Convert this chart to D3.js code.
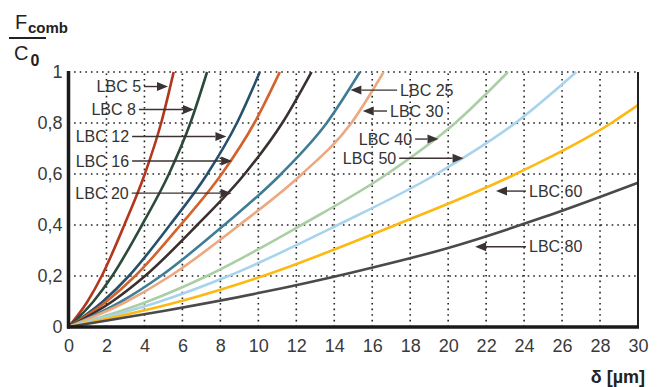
<!DOCTYPE html>
<html>
<head>
<meta charset="utf-8">
<script src="https://cdn.jsdelivr.net/npm/d3@7"></script>
<style>
  body { margin: 0; background: #fff; }
  svg { display: block; }
  text { font-family: "Liberation Sans", Arial, sans-serif; }
</style>
</head>
<body>
<div class="chart"></div>
<script>
var svgWidth = 662;
var svgHeight = 387;

// x tick labels (delta in um) and y tick labels (F_comb / C0)
var xTicks = [0, 2, 4, 6, 8, 10, 12, 14, 16, 18, 20, 22, 24, 26, 28, 30];
var yTicks = [0, 0.2, 0.4, 0.6, 0.8, 1];

// series names
var names = ["LBC 5", "LBC 8", "LBC 12", "LBC 16", "LBC 20", "LBC 25",
             "LBC 30", "LBC 40", "LBC 50", "LBC 60", "LBC 80"];

// load levels (F_comb / C0)
var loadLevels = [0, 0.1, 0.2, 0.4, 0.6, 0.8, 1];

// deflection (um) at each load level
var lbc5  = [0, 1.0, 1.75, 2.94, 4.02, 4.88, 5.54];
var lbc8  = [0, 1.31, 2.30, 3.87, 5.29, 6.42, 7.3];
var lbc12 = [0, 1.81, 3.18, 5.34, 7.31, 8.87, 10.08];
var lbc16 = [0, 2.0, 3.51, 5.9, 8.07, 9.79, 11.13];
var lbc20 = [0, 2.3, 4.03, 6.78, 9.28, 11.26, 12.8];
var lbc25 = [0, 2.78, 4.86, 8.2, 11.2, 13.6, 15.35];
var lbc30 = [0, 3.06, 5.36, 9.0, 12.3, 14.9, 16.6];
var lbc40 = [0, 4.17, 7.29, 12.27, 16.78, 20.37, 23.15];
var lbc50 = [0, 4.82, 8.43, 14.18, 19.39, 23.54, 26.75];

// the two flattest curves run out at delta = 30
var lbc60Load  = [0, 0.1, 0.2, 0.4, 0.6, 0.8, 0.87];
var lbc60Delta = [0, 5.85, 10.24, 17.23, 23.56, 28.6, 30];
var lbc80Delta = [0, 5, 10, 15, 20, 25, 30];
var lbc80Load  = [0, 0.063, 0.133, 0.215, 0.31, 0.43, 0.566];

var colors = ["#b2371c", "#2c4a3a", "#27506c", "#d3622c", "#3a302f", "#3f7c96",
              "#eda87f", "#aacfa5", "#a8d3ec", "#fdb913", "#4a4a4a"];

// build the series as point lists
var series = [lbc5, lbc8, lbc12, lbc16, lbc20, lbc25, lbc30, lbc40, lbc50].map(function (d) {
  return d.map(function (v, i) { return { x: v, y: loadLevels[i] }; });
});
series.push(lbc60Delta.map(function (v, i) { return { x: v, y: lbc60Load[i] }; }));
series.push(lbc80Delta.map(function (v, i) { return { x: v, y: lbc80Load[i] }; }));

// label layout: arrow tip, arrow tail (data units)
var labelPos = [
  { name: "LBC 5",  y: 0.943, tail: 3.98,  tip: 5.24 },
  { name: "LBC 8",  y: 0.853, tail: 3.71,  tip: 6.61 },
  { name: "LBC 12", y: 0.747, tail: 3.35,  tip: 8.32 },
  { name: "LBC 16", y: 0.651, tail: 3.35,  tip: 8.62 },
  { name: "LBC 20", y: 0.525, tail: 3.33,  tip: 8.59 },
  { name: "LBC 25", y: 0.929, tail: 17.31, tip: 14.85 },
  { name: "LBC 30", y: 0.847, tail: 16.78, tip: 15.5 },
  { name: "LBC 40", y: 0.737, tail: 18.26, tip: 19.49 },
  { name: "LBC 50", y: 0.662, tail: 17.42, tip: 20.81 },
  { name: "LBC 60", y: 0.533, tail: 24.1,  tip: 22.52 },
  { name: "LBC 80", y: 0.315, tail: 24.1,  tip: 21.42 }
];

var svg = d3.select(".chart")
  .append("svg")
  .attr("width", svgWidth)
  .attr("height", svgHeight);

var x = d3.scaleLinear().domain([0, 30]).range([68.5, 638]);
var y = d3.scaleLinear().domain([0, 1]).range([327, 72]);

// dotted grid
var grid = svg.append("g");
grid.selectAll(".vg")
  .data(xTicks.filter(function (d) { return d > 0 && d < 30; }))
  .enter().append("line")
  .attr("x1", function (d) { return x(d); })
  .attr("x2", function (d) { return x(d); })
  .attr("y1", y(0)).attr("y2", y(1))
  .attr("stroke", "#222").attr("stroke-width", 1.6)
  .attr("stroke-dasharray", "1.6,4");
grid.selectAll(".hg")
  .data(yTicks.filter(function (d) { return d > 0; }))
  .enter().append("line")
  .attr("x1", x(0)).attr("x2", x(30))
  .attr("y1", function (d) { return y(d); })
  .attr("y2", function (d) { return y(d); })
  .attr("stroke", "#222").attr("stroke-width", 1.6)
  .attr("stroke-dasharray", "1.6,4");

// curves
var line = d3.line()
  .x(function (d) { return x(d.x); })
  .y(function (d) { return y(d.y); })
  .curve(d3.curveMonotoneX);

svg.append("g").selectAll("path")
  .data(series)
  .enter().append("path")
  .attr("d", line)
  .attr("fill", "none")
  .attr("stroke", function (d, i) { return colors[i]; })
  .attr("stroke-width", 2.6);

// frame
svg.append("line").attr("x1", x(30)).attr("x2", x(30)).attr("y1", y(0)).attr("y2", y(1))
  .attr("stroke", "#222").attr("stroke-width", 2);
svg.append("line").attr("x1", x(0)).attr("x2", x(0)).attr("y1", y(0) + 1.5).attr("y2", y(1) - 1)
  .attr("stroke", "#1a1a1a").attr("stroke-width", 3.5);
svg.append("line").attr("x1", x(0) - 1.5).attr("x2", x(30) + 1).attr("y1", y(0)).attr("y2", y(0))
  .attr("stroke", "#1a1a1a").attr("stroke-width", 3.5);

// axes (labels only)
var bottomAxis = d3.axisBottom(x).tickValues(xTicks).tickSize(0).tickPadding(12);
var leftAxis = d3.axisLeft(y).tickValues(yTicks).tickSize(0).tickPadding(6)
  .tickFormat(function (d) { return String(d).replace(".", ","); });

var gx = svg.append("g").attr("transform", "translate(0," + y(0) + ")").call(bottomAxis);
var gy = svg.append("g").attr("transform", "translate(" + x(0) + ",0)").call(leftAxis);
[gx, gy].forEach(function (g) {
  g.select(".domain").remove();
  g.selectAll("text")
    .style("font-family", "'Liberation Sans', Arial, sans-serif")
    .style("font-size", "18px")
    .attr("fill", "#3a3a3a");
});

// labels with arrows
var arrowColor = "#3b3333";
var labels = svg.append("g");
labelPos.forEach(function (p) {
  var ty = y(p.y);
  var tail = x(p.tail), tip = x(p.tip);
  var dir = tip > tail ? 1 : -1;
  var head = 11;
  labels.append("line")
    .attr("x1", tail).attr("x2", tip - dir * head)
    .attr("y1", ty).attr("y2", ty)
    .attr("stroke", arrowColor).attr("stroke-width", 1.4);
  labels.append("path")
    .attr("d", "M" + tip + "," + ty + "L" + (tip - dir * head) + "," + (ty - 4.5) +
               "L" + (tip - dir * head) + "," + (ty + 4.5) + "Z")
    .attr("fill", arrowColor);
  labels.append("text")
    .attr("x", tail - dir * 3)
    .attr("y", ty)
    .attr("dy", "0.35em")
    .attr("text-anchor", dir > 0 ? "end" : "start")
    .style("font-size", "16px")
    .style("white-space", "pre")
    .attr("fill", "#333")
    .text(p.name);
});

// axis titles
svg.append("text").attr("x", 15).attr("y", 28.5).style("font-size", "20px").attr("fill", "#222").text("F");
svg.append("text").attr("x", 28).attr("y", 32.5).style("font-size", "15px").style("font-weight", "bold")
  .attr("fill", "#222").text("comb");
svg.append("line").attr("x1", 9).attr("x2", 46).attr("y1", 38).attr("y2", 38)
  .attr("stroke", "#222").attr("stroke-width", 2);
svg.append("text").attr("x", 14).attr("y", 59.5).style("font-size", "20px").attr("fill", "#222").text("C");
svg.append("text").attr("x", 30.5).attr("y", 66).style("font-size", "16px").style("font-weight", "bold")
  .attr("fill", "#222").text("0");
svg.append("text").attr("x", 645).attr("y", 383).attr("text-anchor", "end")
  .style("font-size", "18px").style("font-weight", "bold").attr("fill", "#222").text("δ [µm]");
</script>
</body>
</html>
